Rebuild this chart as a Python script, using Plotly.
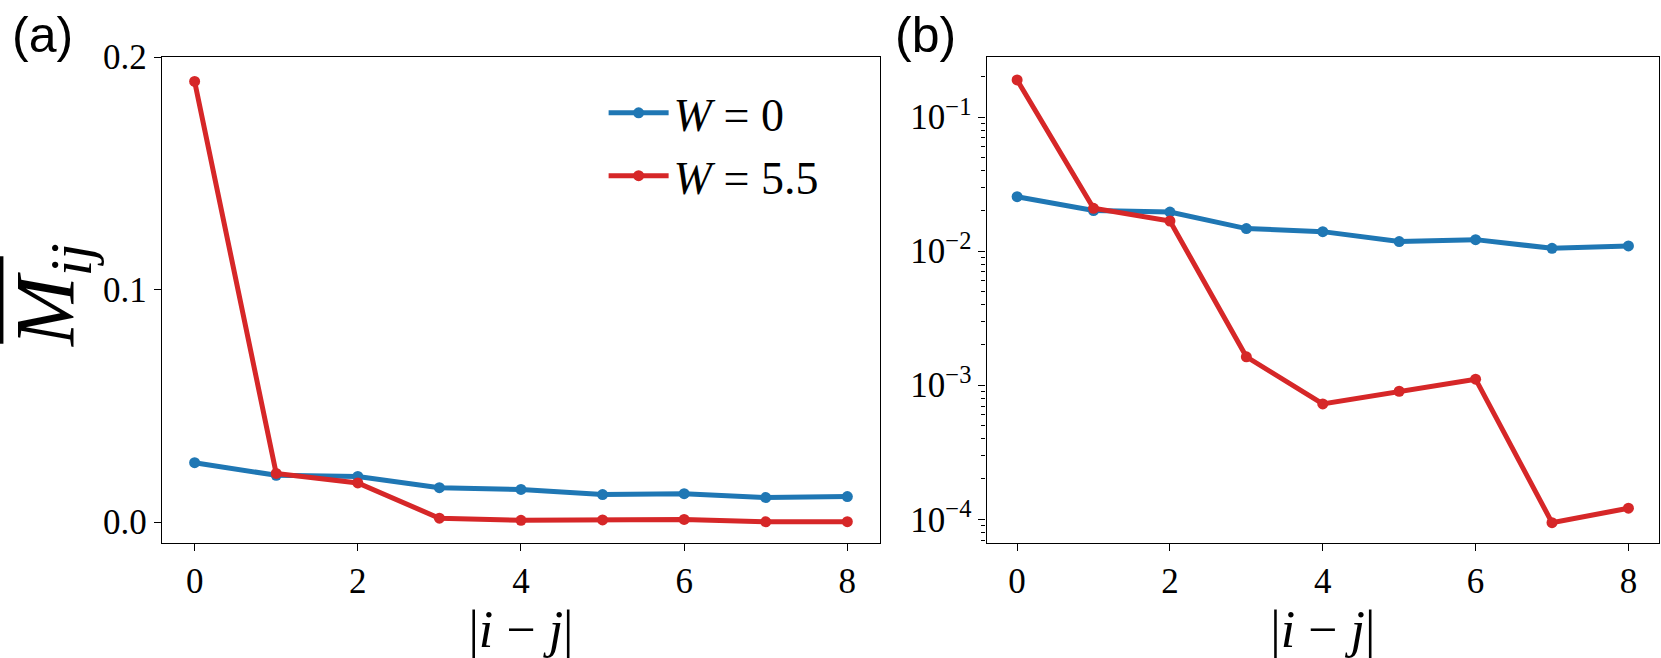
import plotly.graph_objects as go
from plotly.subplots import make_subplots

# |i - j| separations
distance = [0, 1, 2, 3, 4, 5, 6, 7, 8]

# averaged M_ij
m_w0 = [0.0255, 0.0201, 0.0196, 0.01475, 0.0140, 0.0118, 0.0122, 0.01051, 0.01096]
m_w55 = [0.1895, 0.0209, 0.0168, 0.00163, 0.000726, 0.000902, 0.00111, 0.0000944, 0.000121]

series_names = ["<i>W</i> = 0", "<i>W</i> = 5.5"]
series_colors = ["#1f77b4", "#d62728"]

lin_ticks = [0.0, 0.1, 0.2]
log_ticks = [1e-4, 1e-3, 1e-2, 1e-1]
log_ticktext = ["10<sup>\u22124</sup>", "10<sup>\u22123</sup>", "10<sup>\u22122</sup>", "10<sup>\u22121</sup>"]
x_ticks = [0, 2, 4, 6, 8]

FONT = "Liberation Serif"

fig = make_subplots(rows=1, cols=2, horizontal_spacing=0.0712)

for name, vals, color in zip(series_names, [m_w0, m_w55], series_colors):
    # linear panel (a), carries the legend
    fig.add_trace(go.Scatter(
        x=distance, y=vals, mode="lines+markers", name=name,
        line=dict(color=color, width=5),
        marker=dict(color=color, size=11),
        showlegend=True,
    ), row=1, col=1)
    # log panel (b)
    fig.add_trace(go.Scatter(
        x=distance, y=vals, mode="lines+markers", name=name,
        line=dict(color=color, width=5),
        marker=dict(color=color, size=11),
        showlegend=False,
    ), row=1, col=2)

axis_style = dict(
    showline=True, linecolor="black", linewidth=1.3, mirror=True,
    ticks="outside", ticklen=7, tickwidth=1.3, tickcolor="black",
    showgrid=False, zeroline=False,
    tickfont=dict(family=FONT, size=35, color="black"),
)

x_title = dict(text="|<i>i</i> \u2212 <i>j</i>|", font=dict(family=FONT, size=52, color="black"), standoff=6)

fig.update_xaxes(range=[-0.4, 8.4], tickvals=x_ticks, title=x_title, **axis_style)
fig.update_xaxes(domain=[0, 0.4796], row=1, col=1)
fig.update_xaxes(domain=[0.5508, 1], row=1, col=2)

fig.update_yaxes(range=[-0.00903, 0.2], tickvals=lin_ticks, tickformat=".1f", row=1, col=1, **axis_style)

minor_vals = [m * 10 ** e for e in range(-5, 0) for m in range(2, 10)]
fig.update_yaxes(type="log", range=[-4.177, -0.551], tickvals=log_ticks, ticktext=log_ticktext,
                 minor=dict(ticks="outside", ticklen=4, tickwidth=1, tickcolor="black",
                            tickvals=minor_vals, showgrid=False),
                 row=1, col=2, **axis_style)

# y-axis label with overline
fig.add_annotation(
    text="<i>M</i><sub><i>ij</i></sub>", xref="paper", yref="paper",
    x=-0.0735, y=0.51, textangle=-90, showarrow=False,
    font=dict(family=FONT, size=84, color="black"), xanchor="center", yanchor="middle",
)
fig.add_shape(type="line", xref="paper", yref="paper",
              x0=-0.1071, x1=-0.1071, y0=0.41, y1=0.59,
              line=dict(color="black", width=3.5))

# panel labels
for label, xpos in [("(a)", -0.1015), ("(b)", 0.4883)]:
    fig.add_annotation(
        text=label, xref="paper", yref="paper", x=xpos, y=1.108,
        xanchor="left", yanchor="top", showarrow=False,
        font=dict(family="Liberation Sans", size=50, color="black"),
    )

fig.update_layout(
    width=1661, height=658,
    margin=dict(l=162, r=2, t=57, b=115),
    paper_bgcolor="white", plot_bgcolor="white",
    font=dict(family=FONT, color="black"),
    legend=dict(
        x=0.295, y=0.96, xanchor="left", yanchor="top",
        bgcolor="rgba(0,0,0,0)", borderwidth=0,
        font=dict(family=FONT, size=46, color="black"),
        itemwidth=60, tracegroupgap=0,
    ),
    showlegend=True,
)

fig.write_html("out.html", config={"displayModeBar": False},
               post_script="document.body.style.margin='0';document.body.style.overflow='hidden';")
